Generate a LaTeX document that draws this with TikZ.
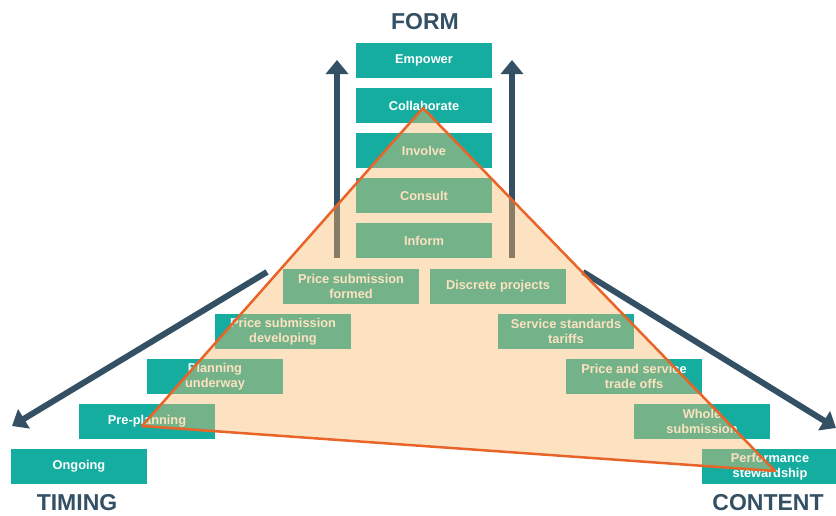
\documentclass[tikz,border=0pt]{standalone}
\usepackage{fontspec}
\setmainfont{Liberation Sans}
\usetikzlibrary{arrows.meta}
\definecolor{teal}{RGB}{20,173,160}
\definecolor{slate}{RGB}{52,80,100}
\definecolor{peach}{RGB}{250,187,107}
\definecolor{orng}{RGB}{232,100,40}
\tikzset{
  box/.style={fill=teal, text=white, minimum width=136pt, minimum height=35pt,
    inner sep=0pt, align=center, font=\fontsize{12.8}{14.5}\selectfont\bfseries},
  title/.style={text=slate, inner sep=0pt, font=\fontsize{23}{26}\selectfont\bfseries},
  bigarrow/.style={draw=slate, line width=6pt, -{Triangle[width=22pt,length=14pt]}},
  tri/.style={fill=peach, fill opacity=0.42, draw=orng, draw opacity=1, line width=2.5pt, line join=round}
}
\begin{document}
\begin{tikzpicture}[x=1pt,y=-1pt]
\useasboundingbox (0,0) rectangle (836,515);
% titles
\node[title] (form) at (425,22) {FORM};
\node[title] (timing) at (77,503) {TIMING};
\node[title] (content) at (768,503) {CONTENT};
% central column
\node[box] (empower) at (424,60.5) {Empower};
\node[box] (collab) at (424,105.5) {Collaborate};
\node[box] (involve) at (424,150.5) {Involve};
\node[box] (consult) at (424,195.5) {Consult};
\node[box] (inform) at (424,240.5) {Inform};
% left staircase
\node[box] (psf) at (351,286.5) {Price submission\\formed};
\node[box] (psd) at (283,331.5) {Price submission\\developing};
\node[box] (plan) at (215,376.5) {Planning\\underway};
\node[box] (pre) at (147,421.5) {Pre-planning};
\node[box] (ongoing) at (79,466.5) {Ongoing};
% right staircase
\node[box] (disc) at (498,286.5) {Discrete projects};
\node[box] (serv) at (566,331.5) {Service standards\\tariffs};
\node[box] (pst) at (634,376.5) {Price and service\\trade offs};
\node[box] (whole) at (702,421.5) {Whole\\submission};
\node[box] (perf) at (770,466.5) {Performance\\stewardship};
% arrows
\coordinate (vl0) at (337,258);
\coordinate (vl1) at (337,60);
\coordinate (vr0) at (512,258);
\coordinate (vr1) at (512,60);
\coordinate (dl0) at (267,272);
\coordinate (dl1) at (12,426);
\coordinate (dr0) at (583,272);
\coordinate (dr1) at (836,428);
\draw[bigarrow] (vl0) -- (vl1);
\draw[bigarrow] (vr0) -- (vr1);
\draw[bigarrow] (dl0) -- (dl1);
\draw[bigarrow] (dr0) -- (dr1);
% triangle
\coordinate (ta) at (423,108);
\coordinate (tb) at (142,426);
\coordinate (tc) at (775,471);
\draw[tri] (ta) -- (tb) -- (tc) -- cycle;
\end{tikzpicture}
\end{document}
